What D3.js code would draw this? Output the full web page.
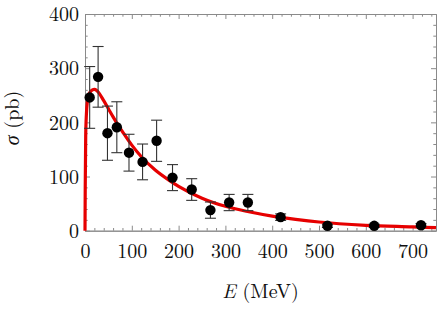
<!DOCTYPE html>
<html>
<head>
<meta charset="utf-8">
<script src="https://cdn.jsdelivr.net/npm/d3@7/dist/d3.min.js"></script>
<style>
  html, body { margin: 0; padding: 0; background: #fff; }
  svg { display: block; }
  text { font-family: "Latin Modern Roman", "CMU Serif", "Liberation Serif", serif; fill: #111; }
</style>
</head>
<body>
<svg id="chart" width="438" height="311"></svg>
<script>
// ---- data ----
const energy  = [10, 28, 48, 68, 94, 123, 153, 187, 228, 268, 308, 348, 418, 518, 618, 718];
const sigma   = [246, 284, 180, 191, 144, 127, 166, 98, 76, 38, 52, 52, 25, 9, 9, 10];
const sigmaErr= [57, 56, 50, 47, 34, 33, 38, 24, 20, 15, 15, 15, 6, 3, 3, 3];

const curveE     = [0, 0.5, 1.5, 3, 5, 8, 12, 16, 20, 25, 30, 40, 50, 60, 70, 80, 100, 120, 150, 180, 200, 250, 300, 350, 400, 450, 500, 600, 700, 750];
const curveSigma = [0, 80, 175, 215, 238, 250, 257, 260, 261, 259, 254, 240, 225, 210, 196, 183, 158, 137, 112, 93, 82, 60, 45, 35, 27, 21, 16, 10, 7, 5.5];

const xTicks = [0, 100, 200, 300, 400, 500, 600, 700];
const yTicks = [0, 100, 200, 300, 400];

// ---- layout ----
const svg = d3.select("#chart");
const L = 85, R = 436, T = 14, B = 230.7;
const x = d3.scaleLinear().domain([0, 750]).range([L, R]);
const y = d3.scaleLinear().domain([0, 400]).range([B, T]);
const frameColor = "#8a8a8a";

const xMinor = d3.range(0, 751, 20).filter(v => v % 100 !== 0);
const yMinor = d3.range(0, 401, 20).filter(v => v % 100 !== 0);

// axes (ticks pointing inward)
function drawAxis(axisGen, transform) {
  const g = svg.append("g").attr("transform", transform).call(axisGen);
  g.selectAll("path.domain").attr("stroke", frameColor).attr("stroke-width", 1);
  g.selectAll(".tick line").attr("stroke", frameColor).attr("stroke-width", 1);
  return g;
}
// bottom major with labels
const gx = drawAxis(d3.axisBottom(x).tickValues(xTicks).tickSize(-5).tickPadding(0).tickSizeOuter(0), `translate(0,${B})`);
gx.selectAll(".tick text").attr("y", 27).attr("dy", 0).attr("font-size", 20).style("fill", "#111");
drawAxis(d3.axisBottom(x).tickValues(xMinor).tickSize(-2.7).tickFormat("").tickSizeOuter(0), `translate(0,${B})`);
// top
drawAxis(d3.axisTop(x).tickValues(xTicks).tickSize(-5).tickFormat("").tickSizeOuter(0), `translate(0,${T})`);
drawAxis(d3.axisTop(x).tickValues(xMinor).tickSize(-2.7).tickFormat("").tickSizeOuter(0), `translate(0,${T})`);
// left
const gy = drawAxis(d3.axisLeft(y).tickValues(yTicks).tickSize(-5).tickPadding(0).tickSizeOuter(0), `translate(${L},0)`);
gy.selectAll(".tick text").attr("x", -6).attr("dy", "0.34em").attr("font-size", 20).style("fill", "#111");
drawAxis(d3.axisLeft(y).tickValues(yMinor).tickSize(-2.7).tickFormat("").tickSizeOuter(0), `translate(${L},0)`);
// right
drawAxis(d3.axisRight(y).tickValues(yTicks).tickSize(-5).tickFormat("").tickSizeOuter(0), `translate(${R},0)`);
drawAxis(d3.axisRight(y).tickValues(yMinor).tickSize(-2.7).tickFormat("").tickSizeOuter(0), `translate(${R},0)`);

// fit curve
const curveData = curveE.map((e, i) => [e, curveSigma[i]]);
svg.append("path")
  .datum(curveData)
  .attr("fill", "none")
  .attr("stroke", "#e60000")
  .attr("stroke-width", 3.2)
  .attr("stroke-linejoin", "round")
  .attr("d", d3.line().x(d => x(d[0])).y(d => y(d[1])).curve(d3.curveMonotoneX));

// data points with error bars
const pts = energy.map((e, i) => ({ e, s: sigma[i], err: sigmaErr[i] }));
const eb = svg.append("g").attr("stroke", "#333").attr("stroke-width", 1.1);
const cap = 5.5;
pts.forEach(p => {
  const cx = x(p.e), y1 = y(p.s + p.err), y0 = y(p.s - p.err);
  eb.append("line").attr("x1", cx).attr("x2", cx).attr("y1", y1).attr("y2", y0);
  eb.append("line").attr("x1", cx - cap).attr("x2", cx + cap).attr("y1", y1).attr("y2", y1);
  eb.append("line").attr("x1", cx - cap).attr("x2", cx + cap).attr("y1", y0).attr("y2", y0);
});
svg.append("g").selectAll("circle").data(pts).join("circle")
  .attr("cx", d => x(d.e)).attr("cy", d => y(d.s)).attr("r", 5.2).attr("fill", "#000");

// axis titles
const xt = svg.append("text").attr("x", (L + R) / 2).attr("y", 298).attr("text-anchor", "middle").attr("font-size", 20);
xt.append("tspan").attr("font-style", "italic").text("E");
xt.append("tspan").text(" (MeV)");

const yt = svg.append("text").attr("transform", `translate(19,${118}) rotate(-90)`).attr("text-anchor", "middle").attr("font-size", 20);
yt.append("tspan").attr("font-style", "italic").text("σ");
yt.append("tspan").text(" (pb)");
</script>
</body>
</html>
